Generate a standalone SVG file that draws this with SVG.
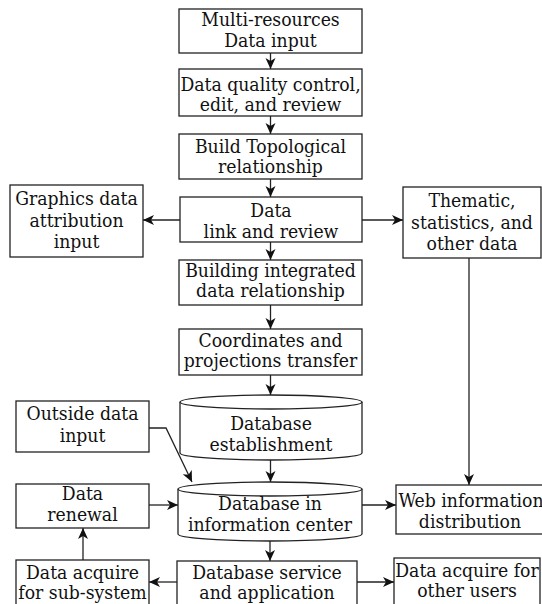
<svg xmlns="http://www.w3.org/2000/svg" width="542" height="604" viewBox="0 0 542 604">
  <style>
    .box { fill: #fff; stroke: #222; stroke-width: 1.3; }
    .lbl { font-family: "DejaVu Serif Condensed", "DejaVu Serif", serif; font-stretch: condensed; font-size: 19.2px; fill: #111; text-anchor: middle; }
    .wire { fill: none; stroke: #222; stroke-width: 1.3; }
  </style>
  <defs>
    <marker id="arrow" markerUnits="userSpaceOnUse" markerWidth="12" markerHeight="11" refX="11" refY="5" orient="auto">
      <path d="M0,0 L11,5 L0,10 L3,5 Z" fill="#111"/>
    </marker>
  </defs>
  <rect width="542" height="604" fill="#fff"/>

  <g id="connectors">
    <line class="wire" x1="270.5" y1="53" x2="270.5" y2="69" marker-end="url(#arrow)"/>
    <line class="wire" x1="270.5" y1="116" x2="270.5" y2="134" marker-end="url(#arrow)"/>
    <line class="wire" x1="270.5" y1="179" x2="270.5" y2="197" marker-end="url(#arrow)"/>
    <line class="wire" x1="270.5" y1="242" x2="270.5" y2="260" marker-end="url(#arrow)"/>
    <line class="wire" x1="270.5" y1="305" x2="270.5" y2="329" marker-end="url(#arrow)"/>
    <line class="wire" x1="270.5" y1="375" x2="270.5" y2="395" marker-end="url(#arrow)"/>
    <line class="wire" x1="270.5" y1="460" x2="270.5" y2="482" marker-end="url(#arrow)"/>
    <line class="wire" x1="270" y1="541" x2="270" y2="561" marker-end="url(#arrow)"/>
    <line class="wire" x1="180" y1="220" x2="143" y2="220" marker-end="url(#arrow)"/>
    <line class="wire" x1="362" y1="220" x2="403" y2="220" marker-end="url(#arrow)"/>
    <line class="wire" x1="469" y1="258" x2="469" y2="485" marker-end="url(#arrow)"/>
    <polyline class="wire" points="149,428 166,428 192,482" marker-end="url(#arrow)"/>
    <line class="wire" x1="149" y1="505" x2="178" y2="505" marker-end="url(#arrow)"/>
    <line class="wire" x1="362" y1="505" x2="396" y2="505" marker-end="url(#arrow)"/>
    <line class="wire" x1="83" y1="560" x2="83" y2="528" marker-end="url(#arrow)"/>
    <line class="wire" x1="177" y1="582" x2="149" y2="582" marker-end="url(#arrow)"/>
    <line class="wire" x1="357" y1="582" x2="394" y2="582" marker-end="url(#arrow)"/>
  </g>

  <g id="multi-resources">
    <rect class="box" x="179" y="9" width="183" height="44"/>
    <text class="lbl" x="270.5" y="26">Multi-resources</text>
    <text class="lbl" x="270.5" y="47">Data input</text>
  </g>
  <g id="quality-control">
    <rect class="box" x="179" y="69" width="183" height="47"/>
    <text class="lbl" x="270.5" y="91">Data quality control,</text>
    <text class="lbl" x="270.5" y="111">edit, and review</text>
  </g>
  <g id="topology">
    <rect class="box" x="179" y="134" width="183" height="45"/>
    <text class="lbl" x="270.5" y="153">Build Topological</text>
    <text class="lbl" x="270.5" y="173">relationship</text>
  </g>
  <g id="link-review">
    <rect class="box" x="180" y="197" width="182" height="45"/>
    <text class="lbl" x="271" y="217">Data</text>
    <text class="lbl" x="271" y="238">link and review</text>
  </g>
  <g id="graphics-attribution">
    <rect class="box" x="10" y="185" width="133" height="72"/>
    <text class="lbl" x="76.5" y="205">Graphics data</text>
    <text class="lbl" x="76.5" y="227">attribution</text>
    <text class="lbl" x="76.5" y="248">input</text>
  </g>
  <g id="thematic">
    <rect class="box" x="403" y="187" width="138" height="71"/>
    <text class="lbl" x="472" y="207">Thematic,</text>
    <text class="lbl" x="472" y="229">statistics, and</text>
    <text class="lbl" x="472" y="250">other data</text>
  </g>
  <g id="integrated-relationship">
    <rect class="box" x="179" y="260" width="183" height="45"/>
    <text class="lbl" x="270.5" y="277">Building integrated</text>
    <text class="lbl" x="270.5" y="297">data relationship</text>
  </g>
  <g id="projection-transfer">
    <rect class="box" x="179" y="329" width="183" height="46"/>
    <text class="lbl" x="270.5" y="347">Coordinates and</text>
    <text class="lbl" x="270.5" y="367">projections transfer</text>
  </g>
  <g id="outside-input">
    <rect class="box" x="16" y="401" width="133" height="51"/>
    <text class="lbl" x="82.5" y="420">Outside data</text>
    <text class="lbl" x="82.5" y="442">input</text>
  </g>
  <g id="db-establishment">
    <path class="box" d="M180,402 L180,453 A91,7 0 0 0 362,453 L362,402 A91,7 0 0 0 180,402 Z"/>
    <path class="box" d="M180,402 A91,7 0 0 0 362,402"/>
    <text class="lbl" x="271" y="430">Database</text>
    <text class="lbl" x="271" y="451">establishment</text>
  </g>
  <g id="data-renewal">
    <rect class="box" x="16" y="484" width="133" height="44"/>
    <text class="lbl" x="82.5" y="500">Data</text>
    <text class="lbl" x="82.5" y="521">renewal</text>
  </g>
  <g id="db-center">
    <path class="box" d="M178,489 L178,534 A92,7 0 0 0 362,534 L362,489 A92,7 0 0 0 178,489 Z"/>
    <path class="box" d="M178,489 A92,7 0 0 0 362,489"/>
    <text class="lbl" x="270" y="510">Database in</text>
    <text class="lbl" x="270" y="531">information center</text>
  </g>
  <g id="web-distribution">
    <rect class="box" x="396" y="485" width="152" height="49"/>
    <text class="lbl" x="471" y="507">Web information</text>
    <text class="lbl" x="470" y="528">distribution</text>
  </g>
  <g id="subsystem-acquire">
    <rect class="box" x="16" y="560" width="133" height="50"/>
    <text class="lbl" x="82.5" y="579">Data acquire</text>
    <text class="lbl" x="82.5" y="599">for sub-system</text>
  </g>
  <g id="db-service">
    <rect class="box" x="177" y="561" width="180" height="50"/>
    <text class="lbl" x="267" y="579">Database service</text>
    <text class="lbl" x="267" y="599">and application</text>
  </g>
  <g id="other-users">
    <rect class="box" x="394" y="558" width="146" height="50"/>
    <text class="lbl" x="467" y="577">Data acquire for</text>
    <text class="lbl" x="467" y="597">other users</text>
  </g>
</svg>
